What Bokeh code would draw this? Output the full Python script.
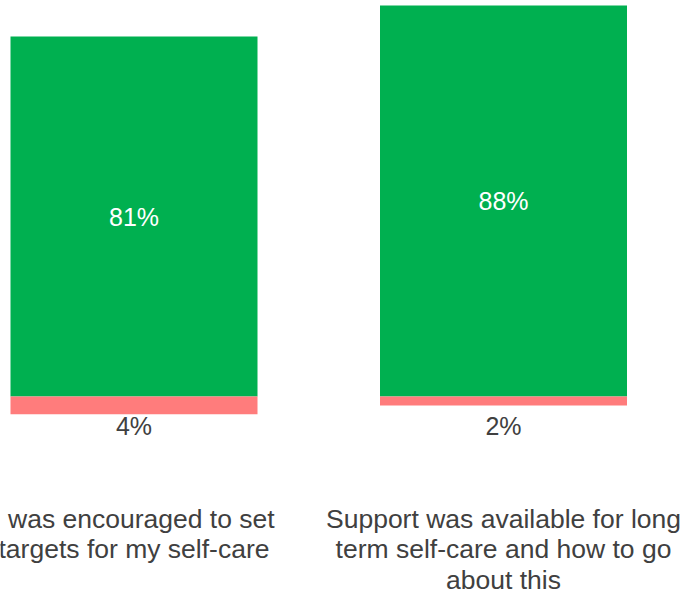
from bokeh.plotting import figure
from bokeh.models import ColumnDataSource, Range1d
from bokeh.core.properties import value
from bokeh.embed import file_html
from bokeh.resources import INLINE

categories = ["I was encouraged to set\ntargets for my self-care",
              "Support was available for long\nterm self-care and how to go\nabout this"]
agree = [81, 88]
disagree = [4, 2]

W, H = 683, 595
px_per_unit_y = 4.444      # pixels per percentage point
base_px = 396              # baseline pixel row (from top)
px_per_unit_x = 369.5
first_center_px = 133.5

x = list(range(len(categories)))
x0 = -first_center_px / px_per_unit_x
y_top = base_px / px_per_unit_y
y_bot = -(H - base_px) / px_per_unit_y

p = figure(width=W, height=H, output_backend="svg", toolbar_location=None,
           x_range=Range1d(x0, x0 + W / px_per_unit_x),
           y_range=Range1d(y_bot, y_top),
           min_border=0, outline_line_color=None)
p.axis.visible = False
p.grid.visible = False
p.background_fill_color = "white"
p.border_fill_color = "white"

src = ColumnDataSource(dict(
    x=x, agree=agree, neg=[-d for d in disagree],
    agree_mid=[a / 2 for a in agree],
    agree_lbl=[f"{a}%" for a in agree],
    dis_lbl=[f"{d}%" for d in disagree],
    dis_y=[-(425 - base_px) / px_per_unit_y] * len(x),
    cat=categories,
    cat_y=[-(503 - base_px) / px_per_unit_y] * len(x),
))

bw = 247 / px_per_unit_x
p.vbar(x="x", top="agree", bottom=0, width=bw, source=src,
       fill_color="#00B050", line_color=None)
p.vbar(x="x", top=0, bottom="neg", width=bw, source=src,
       fill_color="#FF7C7C", line_color=None)

font = value("Liberation Sans")
p.text(x="x", y="agree_mid", text="agree_lbl", source=src,
       text_font=font, text_font_size="25px", text_color="white",
       text_align="center", text_baseline="middle")
p.text(x="x", y="dis_y", text="dis_lbl", source=src,
       text_font=font, text_font_size="25px", text_color="#404040",
       text_align="center", text_baseline="middle")
p.text(x="x", y="cat_y", text="cat", source=src,
       text_font=font, text_font_size="26.5px", text_color="#404040",
       text_align="center", text_baseline="top", text_line_height=1.02)

open("out.html", "w").write(file_html(p, INLINE))
